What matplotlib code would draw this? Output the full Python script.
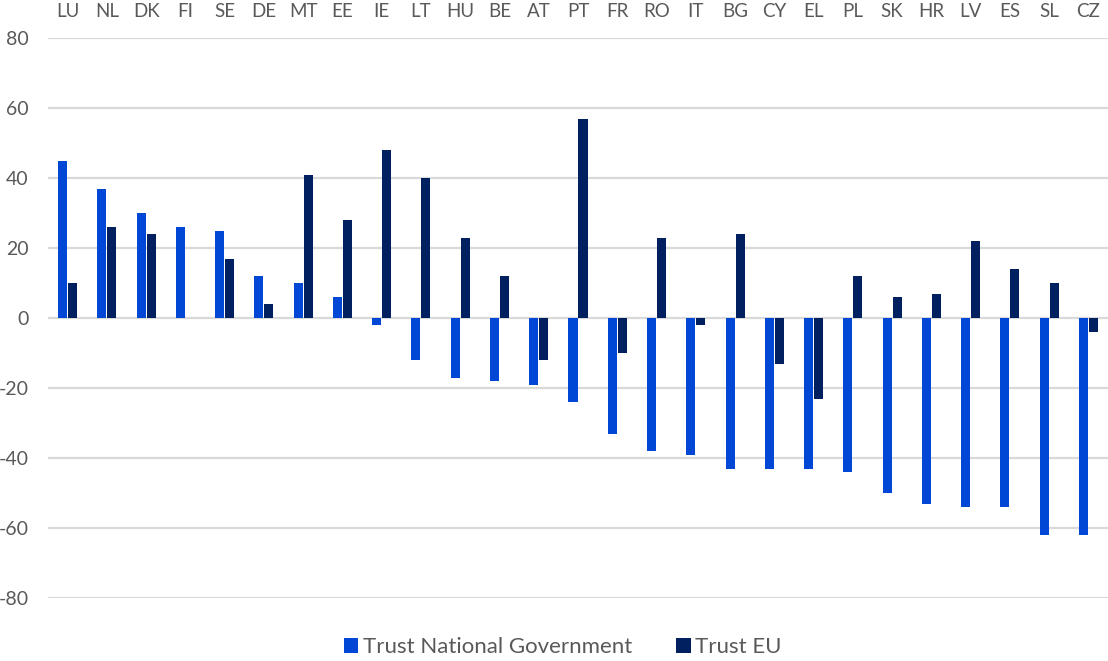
import numpy as np
import matplotlib
matplotlib.use("Agg")
import matplotlib.pyplot as plt

# ---------------------------------------------------------------------------
# Datos
# ---------------------------------------------------------------------------
countries = ["LU", "NL", "DK", "FI", "SE", "DE", "MT", "EE", "IE", "LT", "HU",
             "BE", "AT", "PT", "FR", "RO", "IT", "BG", "CY", "EL", "PL", "SK",
             "HR", "LV", "ES", "SL", "CZ"]
trust_gov = [45, 37, 30, 26, 25, 12, 10, 6, -2, -12, -17, -18, -19, -24, -33,
             -38, -39, -43, -43, -43, -44, -50, -53, -54, -54, -62, -62]
trust_eu = [10, 26, 24, 0, 17, 4, 41, 28, 48, 40, 23, 12, -12, 57, -10, 23,
            -2, 24, -13, -23, 12, 6, 7, 22, 14, 10, -4]
y_ticks = [-80, -60, -40, -20, 0, 20, 40, 60, 80]

plt.rcParams["font.family"] = ["Lato", "DejaVu Sans"]
text_color = "#595959"

fig = plt.figure(figsize=(11.08, 6.61), dpi=100)
ax = fig.add_axes([48 / 1108, 63 / 661, 1 - 48 / 1108, 560 / 661])

x = np.arange(len(countries))
w = 0.23
off = 0.127
ax.bar(x - off, trust_gov, width=w, color="#0047D6", linewidth=0,
       label="Trust National Government", zorder=3)
ax.bar(x + off, trust_eu, width=w, color="#002060", linewidth=0,
       label="Trust EU", zorder=3)

ax.set_xlim(-0.5, len(countries) - 0.5)
ax.set_ylim(-80, 80)
ax.set_yticks(y_ticks)
ax.set_yticklabels([str(v) for v in y_ticks])
ax.set_xticks(x)
ax.set_xticklabels(countries)
ax.xaxis.tick_top()
ax.tick_params(axis="x", length=0, pad=13, labelsize=13.5, labelcolor=text_color)
ax.tick_params(axis="y", length=0, pad=14, labelsize=14, labelcolor=text_color)

ax.yaxis.grid(True, color="#d9d9d9", linewidth=1.6, zorder=0)
ax.set_axisbelow(True)
for s in ax.spines.values():
    s.set_visible(False)

fig.legend(loc="center", bbox_to_anchor=(0.508, 1 - 647 / 661), ncol=2,
           frameon=False, fontsize=16, labelcolor=text_color,
           handlelength=0.65, handleheight=0.65, handletextpad=0.2,
           columnspacing=2.0)

fig.savefig("out.png", dpi=100)
